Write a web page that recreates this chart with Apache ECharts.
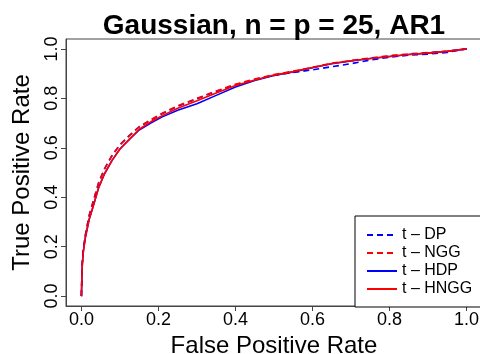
<!DOCTYPE html>
<html>
<head>
<meta charset="utf-8">
<script src="https://cdn.jsdelivr.net/npm/echarts@6/dist/echarts.min.js"></script>
<style>
  html, body { margin: 0; padding: 0; background: #fff; }
  #chart { width: 480px; height: 354px; }
</style>
</head>
<body>
<div id="chart"></div>
<script>
// ROC curves: false positive rate grid shared by all four methods
var fpr = [0, 0.002, 0.005, 0.01, 0.02, 0.03, 0.045, 0.06, 0.08, 0.1, 0.125, 0.15, 0.18, 0.21, 0.25,
           0.3, 0.35, 0.4, 0.45, 0.5, 0.55, 0.6, 0.65, 0.7, 0.75, 0.8, 0.85, 0.9, 0.95, 1];

// true positive rates per method
var tprDP   = [0, 0.13, 0.19, 0.245, 0.325, 0.38, 0.46, 0.515, 0.57, 0.612, 0.65, 0.685, 0.712, 0.738, 0.768,
               0.798, 0.828, 0.855, 0.876, 0.893, 0.905, 0.915, 0.928, 0.94, 0.955, 0.966, 0.975, 0.979, 0.986, 1];
var tprNGG  = [0, 0.13, 0.19, 0.245, 0.325, 0.38, 0.46, 0.515, 0.57, 0.612, 0.65, 0.685, 0.713, 0.74, 0.77,
               0.8, 0.83, 0.857, 0.878, 0.896, 0.91, 0.926, 0.942, 0.953, 0.963, 0.973, 0.98, 0.985, 0.991, 1];
var tprHDP  = [0, 0.12, 0.18, 0.235, 0.31, 0.36, 0.44, 0.495, 0.55, 0.595, 0.635, 0.672, 0.7, 0.725, 0.752,
               0.778, 0.812, 0.846, 0.872, 0.892, 0.907, 0.924, 0.94, 0.951, 0.961, 0.969, 0.977, 0.983, 0.99, 1];
var tprHNGG = [0, 0.12, 0.18, 0.235, 0.31, 0.36, 0.44, 0.495, 0.55, 0.595, 0.635, 0.675, 0.705, 0.73, 0.76,
               0.79, 0.822, 0.852, 0.874, 0.894, 0.908, 0.925, 0.941, 0.952, 0.961, 0.969, 0.977, 0.983, 0.99, 1];

var tickValues = [0, 0.2, 0.4, 0.6, 0.8, 1];
var seriesNames = ['t \u2013 DP', 't \u2013 NGG', 't \u2013 HDP', 't \u2013 HNGG'];

function pairs(ys) {
  return fpr.map(function (x, i) { return [x, ys[i]]; });
}

var FONT = 'Liberation Sans, Arial, Helvetica, sans-serif';
var axisGrey = '#444';

function makeSeries(name, ys, color, dashed) {
  return {
    name: name,
    type: 'line',
    data: pairs(ys),
    symbol: 'none',
    smooth: false,
    animation: false,
    lineStyle: { color: color, width: 1.6, type: dashed ? [6, 4] : 'solid' },
    itemStyle: { color: color }
  };
}

function axisCommon(name, gap, extraLabel) {
  return {
    type: 'value',
    min: -0.04,
    max: 1.04,
    name: name,
    nameLocation: 'middle',
    nameGap: gap,
    splitLine: { show: false },
    axisLine: { show: true, onZero: false, lineStyle: { color: axisGrey, width: 1 } },
    axisTick: { show: true, inside: false, length: 5, customValues: tickValues, lineStyle: { color: axisGrey } },
    axisLabel: Object.assign({
      customValues: tickValues, fontFamily: FONT, fontSize: 18, color: '#000',
      formatter: function (v) { return v.toFixed(1); }
    }, extraLabel)
  };
}

var xAxis = axisCommon('False Positive Rate', 21, { margin: 5 });
xAxis.nameTextStyle = { fontFamily: FONT, fontSize: 24, color: '#000', verticalAlign: 'top' };
var yAxis = axisCommon('True Positive Rate', 32, { rotate: 90, margin: 5 });
yAxis.nameTextStyle = { fontFamily: FONT, fontSize: 24, color: '#000' };

var chart = echarts.init(document.getElementById('chart'), null, { renderer: 'canvas' });
chart.setOption({
  backgroundColor: '#fff',
  animation: false,
  title: {
    text: 'Gaussian, n = p = 25, AR1',
    left: 269,
    textAlign: 'center',
    top: 7,
    textStyle: { fontFamily: FONT, fontWeight: 'bold', fontSize: 28, color: '#000' }
  },
  grid: {
    left: 66, right: -2, top: 39, bottom: 48,
    containLabel: false,
    outerBoundsMode: 'none',
    show: true, borderColor: axisGrey, borderWidth: 1, backgroundColor: 'transparent'
  },
  legend: {
    data: seriesNames,
    orient: 'vertical',
    left: 355,
    top: 216,
    itemWidth: 30,
    itemHeight: 14,
    itemGap: 2,
    padding: [11, 20, 10, 11],
    borderColor: '#000',
    borderWidth: 1,
    backgroundColor: '#fff',
    itemStyle: { opacity: 0 },
    textStyle: { fontFamily: FONT, fontSize: 16, lineHeight: 16, color: '#000' }
  },
  xAxis: xAxis,
  yAxis: yAxis,
  series: [
    makeSeries(seriesNames[0], tprDP, '#0000ff', true),
    makeSeries(seriesNames[1], tprNGG, '#ff0000', true),
    makeSeries(seriesNames[2], tprHDP, '#0000ff', false),
    makeSeries(seriesNames[3], tprHNGG, '#ff0000', false)
  ]
});
</script>
</body>
</html>
